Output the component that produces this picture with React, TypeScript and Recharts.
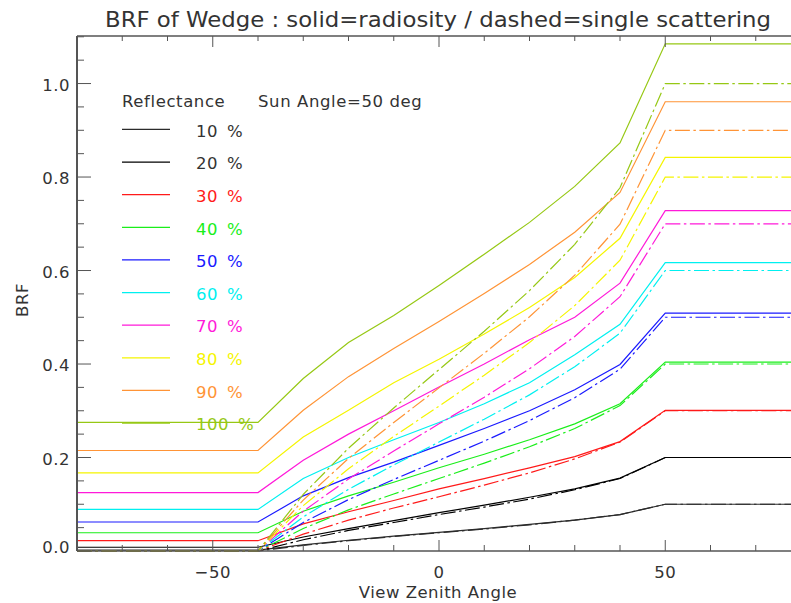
import React from 'react';
import { LineChart, Line, XAxis, YAxis } from 'recharts';

// view zenith angles where the model was sampled
const viewAngles = [-80, -40, -30, -20, -10, 0, 10, 20, 30, 40, 50, 80];
const reflectances = [10, 20, 30, 40, 50, 60, 70, 80, 90, 100];
const seriesColors = ['#2b2b2b', '#000000', '#ff1a1a', '#1aee1a', '#1a1aff', '#00f0f0', '#ff1ad9', '#f5f500', '#ff9436', '#96c814'];

// solid = radiosity
const radiosity10 = [0.002, 0.002, 0.013, 0.023, 0.032, 0.040, 0.048, 0.057, 0.066, 0.078, 0.100, 0.100];
const radiosity20 = [0.008, 0.008, 0.030, 0.048, 0.065, 0.082, 0.098, 0.115, 0.133, 0.156, 0.200, 0.200];
const radiosity30 = [0.022, 0.022, 0.058, 0.084, 0.108, 0.133, 0.155, 0.178, 0.202, 0.234, 0.301, 0.301];
const radiosity40 = [0.039, 0.039, 0.085, 0.118, 0.147, 0.178, 0.207, 0.238, 0.272, 0.315, 0.404, 0.404];
const radiosity50 = [0.062, 0.062, 0.118, 0.157, 0.190, 0.226, 0.262, 0.300, 0.345, 0.399, 0.509, 0.509];
const radiosity60 = [0.089, 0.089, 0.155, 0.200, 0.238, 0.275, 0.315, 0.360, 0.420, 0.485, 0.617, 0.617];
const radiosity70 = [0.125, 0.125, 0.194, 0.250, 0.300, 0.351, 0.400, 0.452, 0.500, 0.573, 0.728, 0.728];
const radiosity80 = [0.167, 0.167, 0.244, 0.301, 0.360, 0.410, 0.464, 0.521, 0.585, 0.669, 0.842, 0.842];
const radiosity90 = [0.215, 0.215, 0.301, 0.373, 0.433, 0.491, 0.551, 0.613, 0.682, 0.767, 0.961, 0.961];
const radiosity100 = [0.275, 0.275, 0.369, 0.446, 0.504, 0.568, 0.635, 0.703, 0.780, 0.873, 1.085, 1.085];

// dashed = single scattering
const single10 = [0, 0, 0.012, 0.022, 0.031, 0.039, 0.047, 0.056, 0.066, 0.078, 0.10, 0.10];
const single20 = [0, 0, 0.024, 0.044, 0.061, 0.078, 0.094, 0.111, 0.131, 0.155, 0.20, 0.20];
const single30 = [0, 0, 0.036, 0.066, 0.092, 0.116, 0.141, 0.167, 0.197, 0.233, 0.30, 0.30];
const single40 = [0, 0, 0.048, 0.088, 0.122, 0.155, 0.188, 0.223, 0.262, 0.311, 0.40, 0.40];
const single50 = [0, 0, 0.061, 0.110, 0.153, 0.194, 0.235, 0.279, 0.328, 0.389, 0.50, 0.50];
const single60 = [0, 0, 0.073, 0.132, 0.184, 0.233, 0.282, 0.334, 0.394, 0.466, 0.60, 0.60];
const single70 = [0, 0, 0.085, 0.154, 0.214, 0.272, 0.329, 0.390, 0.459, 0.544, 0.70, 0.70];
const single80 = [0, 0, 0.097, 0.176, 0.245, 0.310, 0.376, 0.446, 0.525, 0.622, 0.80, 0.80];
const single90 = [0, 0, 0.109, 0.198, 0.275, 0.349, 0.423, 0.501, 0.590, 0.699, 0.90, 0.90];
const single100 = [0, 0, 0.121, 0.220, 0.306, 0.388, 0.470, 0.557, 0.656, 0.777, 1.00, 1.00];

const xTicks = [-80, -70, -60, -50, -40, -30, -20, -10, 0, 10, 20, 30, 40, 50, 60, 70, 80];
const xLabels = [-50, 0, 50];
const yTicks = [0, 0.05, 0.1, 0.15, 0.2, 0.25, 0.3, 0.35, 0.4, 0.45, 0.5, 0.55, 0.6, 0.65, 0.7, 0.75, 0.8, 0.85, 0.9, 0.95, 1.0, 1.05, 1.1];
const yLabels = [0, 0.2, 0.4, 0.6, 0.8, 1.0];

const radiosity = [radiosity10, radiosity20, radiosity30, radiosity40, radiosity50, radiosity60, radiosity70, radiosity80, radiosity90, radiosity100];
const single = [single10, single20, single30, single40, single50, single60, single70, single80, single90, single100];

const rows = viewAngles.map((angle, i) => {
  const row: Record<string, number> = { angle };
  reflectances.forEach((r, k) => {
    row['s' + r] = radiosity[k][i];
    row['d' + r] = single[k][i];
  });
  return row;
});

const axisColor = '#555';
const textColor = '#333';
const font = '"DejaVu Sans", sans-serif';

function BottomTick({ x, y, payload }: any) {
  const v = payload.value;
  const major = xLabels.includes(v);
  return (
    <g>
      <line x1={x} x2={x} y1={y} y2={y - (major ? 11 : 6)} stroke={axisColor} />
      {major && (
        <text x={x} y={y + 27} textAnchor="middle" fontSize={16.5} fontFamily={font} fill={textColor} letterSpacing={0.5}>
          {v < 0 ? '\u2212' + Math.abs(v) : String(v)}
        </text>
      )}
    </g>
  );
}

function TopTick({ x, y, payload }: any) {
  const major = xLabels.includes(payload.value);
  return <line x1={x} x2={x} y1={y} y2={y + (major ? 11 : 5)} stroke={axisColor} />;
}

function LeftTick({ x, y, payload }: any) {
  const v = payload.value;
  const major = yLabels.some((l) => Math.abs(l - v) < 1e-6);
  return (
    <g>
      <line x1={x} x2={x + (major ? 14 : 7)} y1={y} y2={y} stroke={axisColor} />
      {major && (
        <text x={x - 7} y={y + 7 - (v === 0 ? 5 : 0)} textAnchor="end" fontSize={16.5} fontFamily={font} fill={textColor} letterSpacing={0.5}>
          {v.toFixed(1)}
        </text>
      )}
    </g>
  );
}

export default function App() {
  return (
    <div style={{ position: 'absolute', left: 0, top: 0, width: 791, height: 603, overflow: 'hidden', background: '#fff' }}>
      <LineChart width={830} height={603} data={rows} margin={{ top: 0, right: 29, bottom: 0, left: 0 }}>
        <XAxis
          xAxisId="top"
          orientation="top"
          type="number"
          dataKey="angle"
          domain={[-80, 80]}
          ticks={xTicks}
          interval={0}
          height={36}
          tickSize={0}
          tickMargin={0}
          tickLine={false}
          axisLine={{ stroke: axisColor, strokeWidth: 1.5 }}
          tick={<TopTick />}
        />
        <XAxis
          type="number"
          dataKey="angle"
          domain={[-80, 80]}
          ticks={xTicks}
          interval={0}
          height={52}
          tickSize={0}
          tickMargin={0}
          tickLine={false}
          axisLine={{ stroke: axisColor, strokeWidth: 1.5 }}
          tick={<BottomTick />}
        />
        <YAxis
          type="number"
          domain={[0, 1.1017]}
          ticks={yTicks}
          interval={0}
          width={77}
          tickSize={0}
          tickMargin={0}
          tickLine={false}
          axisLine={{ stroke: axisColor, strokeWidth: 2 }}
          tick={<LeftTick />}
        />
        {reflectances.map((r, k) => (
          <Line
            key={'s' + r}
            dataKey={'s' + r}
            stroke={seriesColors[k]}
            strokeWidth={1.2}
            dot={false}
            type="linear"
            isAnimationActive={false}
          />
        ))}
        {reflectances.map((r, k) => (
          <Line
            key={'d' + r}
            dataKey={'d' + r}
            stroke={seriesColors[k]}
            strokeWidth={1.2}
            strokeDasharray="15 3.5 2.5 3.5"
            dot={false}
            type="linear"
            isAnimationActive={false}
          />
        ))}
      </LineChart>
      <svg width={791} height={603} style={{ position: 'absolute', left: 0, top: 0, pointerEvents: 'none' }}>
        <text x={438} y={27} textAnchor="middle" fontSize={21} fontFamily={font} fill={textColor} textLength={666} lengthAdjust="spacingAndGlyphs">
          BRF of Wedge : solid=radiosity / dashed=single scattering
        </text>
        <text x={438} y={598} textAnchor="middle" fontSize={16.5} fontFamily={font} fill={textColor} letterSpacing={0.5}>
          View Zenith Angle
        </text>
        <text x={28} y={300} textAnchor="middle" fontSize={16.5} fontFamily={font} fill={textColor} letterSpacing={0.5} transform="rotate(-90 28 300)">
          BRF
        </text>
        <text x={122} y={107} fontSize={16.5} fontFamily={font} fill={textColor} letterSpacing={0.6}>Reflectance</text>
        <text x={258} y={107} fontSize={16.5} fontFamily={font} fill={textColor} letterSpacing={0.6}>Sun Angle=50 deg</text>
        {reflectances.map((r, k) => {
          const base = 136.7 + 32.63 * k;
          return (
            <g key={r}>
              <line x1={122} x2={170} y1={base - 7.3} y2={base - 7.3} stroke={seriesColors[k]} strokeWidth={1.2} />
              <text x={196} y={base} fontSize={16.5} fontFamily={font} fill={k < 2 ? textColor : seriesColors[k]} letterSpacing={0.5}>
                {String(r)}
                <tspan dx={9}>%</tspan>
              </text>
            </g>
          );
        })}
      </svg>
    </div>
  );
}
